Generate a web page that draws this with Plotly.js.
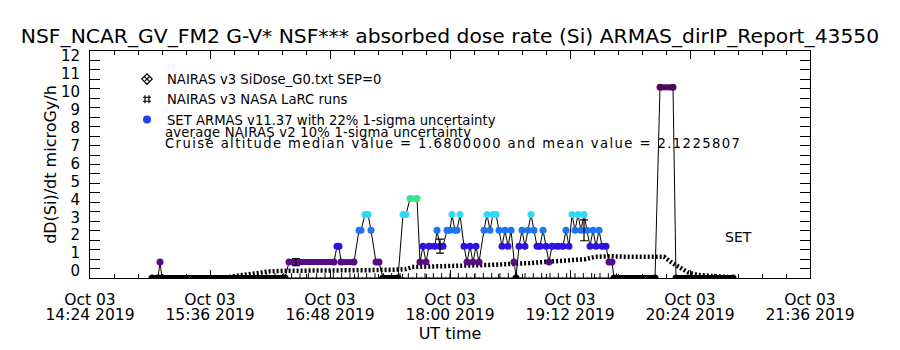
<!DOCTYPE html>
<html><head><meta charset="utf-8">
<script src="https://cdn.plot.ly/plotly-3.0.1.min.js"></script>
<style>html,body{margin:0;padding:0;background:#fff;}#chart{width:900px;height:350px;}</style>
</head><body><div id="chart"></div>
<script>
const DAY = '2019-10-03 ';
const tickTimes = ['14:24','15:36','16:48','18:00','19:12','20:24','21:36'];
const tickDateText = ['Oct 03','Oct 03','Oct 03','Oct 03','Oct 03','Oct 03','Oct 03'];
const tickTimeText = ['14:24 2019','15:36 2019','16:48 2019','18:00 2019','19:12 2019','20:24 2019','21:36 2019'];
const yTicks = [0,1,2,3,4,5,6,7,8,9,10,11,12];

// NAIRAS v3 SiDose_G0 model curve
const nairasTime = ['15:45:00','15:54:00','16:03:00','16:12:00','16:21:00','16:30:00','16:42:00','16:54:00','17:06:00','17:18:00','17:30:00','17:33:36','17:37:12','17:48:00','18:06:00','18:24:00','18:36:00','18:48:00','19:01:48','19:15:00','19:21:00','19:27:00','19:36:00','19:48:00','20:00:00','20:08:24','20:13:12','20:18:00','20:22:48','20:28:48','20:37:12','20:48:00'];
const nairasDose = [0.03,0.15,0.27,0.35,0.38,0.38,0.38,0.40,0.40,0.42,0.45,0.47,0.58,0.62,0.65,0.69,0.73,0.79,0.88,0.95,0.99,1.12,1.15,1.12,1.12,1.12,0.80,0.52,0.30,0.16,0.10,0.04];

// NAIRAS v3 NASA LaRC runs
const larcTime = ['16:10','16:15','16:20','16:25','16:30','16:35','16:40','16:45','16:50','16:55','17:00','17:05','17:10','17:15','17:20','17:25','17:30','17:35','17:40','17:45','17:50','17:55','18:00','18:05','18:10','18:15','18:20','18:25','18:30','18:35','18:40','18:45','18:50','18:55','19:00','19:05','19:10','19:15','19:20','19:25','19:30','19:35','19:40'];
const larcDose = [0,0,0,0,0,0,0,0,0,0,0,0,0,0,0,0,0,0,0,0,0,0,0,0,0,0,0,0,0,0,0,0,0,0,0,0,0,0,0,0,0,0,0];

// SET ARMAS v11.37 measurements
const armasTime = ['15:01:12','15:04:48','15:06:00','15:07:12','16:21:00','16:23:24','16:50:24','16:52:12','16:53:24','16:54:36',
'17:02:24','17:05:24','17:06:36','17:09:00','17:10:48','17:12:36','17:15:36','17:17:24','17:19:48','17:28:48',
'17:31:48','17:33:36','17:36:00','17:40:12','17:42:00','17:43:48','17:45:36','17:47:24','17:51:00','17:52:12',
'17:54:00','17:55:48','17:58:12','18:00:00','18:01:12','18:03:00','18:04:12','18:06:00','18:08:24','18:10:12',
'18:12:00','18:13:48','18:15:36','18:17:24','18:20:24','18:22:12','18:24:00','18:25:48','18:27:36','18:29:24',
'18:31:12','18:33:00','18:34:48','18:36:36','18:38:24','18:39:36','18:41:24','18:43:12','18:45:00','18:46:48',
'18:48:36','18:50:24','18:52:12','18:54:00','18:55:48','18:57:36','18:59:24','19:01:12','19:04:48','19:07:48',
'19:09:36','19:11:24','19:13:12','19:15:00','19:16:48','19:18:36','19:20:24','19:22:12','19:24:00','19:25:48',
'19:27:36','19:29:24','19:31:12','19:33:36','19:35:24','19:37:12','19:38:24','20:03:00','20:06:00','20:13:48',
'20:15:36','20:49:48'];
const armasDose = [0,0,0.84,0,0,0.84,0.84,1.68,1.68,0.84,
0.84,2.52,2.52,3.36,3.36,2.52,0.84,0.84,0,0,
3.36,3.36,4.2,4.2,0.84,1.68,0.84,1.68,1.68,2.52,
1.68,1.68,2.52,2.52,3.36,2.52,2.52,3.36,1.68,0.84,
1.68,0.84,1.68,0.84,2.52,3.36,2.52,3.36,3.36,2.52,
1.68,2.52,1.68,2.52,0.84,0,1.68,2.52,1.68,2.52,
3.36,2.52,1.68,1.68,2.52,1.68,0.84,1.68,1.68,1.68,
2.52,1.68,3.36,2.52,3.36,2.52,3.36,2.52,1.68,2.52,
1.68,2.52,1.68,1.68,0.84,0.84,0,0,10.08,10.08,
0,0];

// ARMAS 1-sigma error bars
const errTime = ['16:27:36','17:54:00','19:20:24'];
const errDose = [0.84,1.68,2.52];
const errSigma = [0.19,0.37,0.55];

const doseLevels = [0,0.84,1.68,2.52,3.36,4.2,10.08];
const levelColors = ['#000000','#550c85','#2d12e0','#1f74f2','#33d7f5','#33e68c','#4d0a5c'];
function doseColor(v){ const i = doseLevels.indexOf(v); return i>=0 ? levelColors[i] : '#000000'; }
const toDate = t => DAY + t;

const FONT = 'DejaVu Sans, sans-serif';
const armasX = armasTime.map(toDate);

const traces = [];
traces.push({x: nairasTime.map(toDate), y: nairasDose, type:'scatter', mode:'lines',
  line:{color:'#000', width:4.5, dash:'2px,2px'}, showlegend:false, hoverinfo:'skip'});
traces.push({x: larcTime.map(toDate), y: larcDose, type:'scatter', mode:'markers',
  marker:{symbol:'cross-thin-open', size:7, color:'#000', line:{color:'#000', width:1}}, showlegend:false});
traces.push({x: armasX, y: armasDose, type:'scatter', mode:'lines',
  line:{color:'#000', width:1}, showlegend:false});
// colored runs of equal consecutive readings
const segs = {};
for (let i=0;i<armasDose.length-1;i++){
  if (armasDose[i] === armasDose[i+1]){
    const c = doseColor(armasDose[i]);
    if (!segs[c]) segs[c] = {x:[], y:[]};
    segs[c].x.push(armasX[i], armasX[i+1], null);
    segs[c].y.push(armasDose[i], armasDose[i+1], null);
  }
}
Object.keys(segs).forEach(c => {
  traces.push({x: segs[c].x, y: segs[c].y, type:'scatter', mode:'lines',
    line:{color:c, width:6}, showlegend:false, connectgaps:false});
});
traces.push({x: armasX, y: armasDose, type:'scatter', mode:'markers',
  marker:{symbol:'circle', size:7, color: armasDose.map(doseColor), line:{width:0}}, showlegend:false});
traces.push({x: errTime.map(toDate), y: errDose, type:'scatter', mode:'markers',
  marker:{size:1, color:'rgba(0,0,0,0)'}, showlegend:false,
  error_y:{type:'data', array: errSigma, visible:true, color:'#000', thickness:1.2, width:4}});

// legend entries
const legendNames = ['NAIRAS v3 SiDose_G0.txt SEP=0','NAIRAS v3 NASA LaRC runs','SET ARMAS v11.37 with 22% 1-sigma uncertainty'];
traces.push({x:[null], y:[null], xaxis:'x2', yaxis:'y2', type:'scatter', mode:'markers', name: legendNames[0], legendgroup:'a',
  marker:{symbol:'diamond-x-open', size:8, color:'#000', line:{width:1.2, color:'#000'}}});
traces.push({x:[null], y:[null], xaxis:'x2', yaxis:'y2', type:'scatter', mode:'markers', name: legendNames[1], legendgroup:'b',
  marker:{symbol:'hash-open', size:8, color:'#000', line:{width:1.2, color:'#000'}}});
traces.push({x:[null], y:[null], xaxis:'x2', yaxis:'y2', type:'scatter', mode:'markers', name: legendNames[2], legendgroup:'c',
  marker:{symbol:'circle', size:8, color:'#2a3cf0'}});

const xRange = [toDate('14:24'), toDate('21:36')];
const layout = {
  width:900, height:350,
  margin:{l:90, r:90, t:51, b:72, pad:0},
  paper_bgcolor:'#fff', plot_bgcolor:'#fff',
  font:{family:FONT, color:'#000', size:13},
  title:{text:'NSF_NCAR_GV_FM2 G-V* NSF*** absorbed dose rate (Si) ARMAS_dirIP_Report_43550',
    font:{family:FONT, size:20.3, color:'#000'}, x:0.5, xanchor:'center', y:1-36/350, yref:'container', yanchor:'middle'},
  xaxis:{type:'date', range:xRange, tickvals: tickTimes.map(toDate), ticktext: tickDateText,
    tickfont:{size:15.5}, ticks:'inside', ticklen:8, tickcolor:'#000', tickwidth:1,
    showline:true, linecolor:'#000', linewidth:1, mirror:'allticks', showgrid:false, zeroline:false,
    minor:{tick0: toDate('14:24'), dtick:864000, ticks:'inside', ticklen:4, tickcolor:'#000', showgrid:false},
    ticklabelstandoff:7,
    title:{text:'UT time', font:{size:16}, standoff:20}},
  xaxis2:{type:'date', range:xRange, overlaying:'x', anchor:'y', side:'bottom',
    tickvals: tickTimes.map(toDate), ticktext: tickTimeText, tickfont:{size:15.5},
    ticks:'', showline:false, showgrid:false, zeroline:false, ticklabelstandoff:25},
  yaxis:{range:[0,12], tickvals:yTicks, showticklabels:false, ticks:'inside', ticklen:10, tickcolor:'#000',
    showline:true, linecolor:'#000', linewidth:1, mirror:'allticks', showgrid:false, zeroline:false,
    minor:{dtick:0.5, ticks:'inside', ticklen:10, tickcolor:'#000', showgrid:false}},
  yaxis2:{range:[-0.39, 12.28], overlaying:'y', side:'left', anchor:'x', tickvals:yTicks,
    tickfont:{size:15}, ticks:'', showline:false, showgrid:false, zeroline:false, ticklabelstandoff:9,
    title:{text:'dD(Si)/dt microGy/h', font:{size:16}, standoff:0}},
  showlegend:true,
  legend:{x:(127-90)/720, y:(278-64)/227, xanchor:'left', yanchor:'top', bgcolor:'rgba(0,0,0,0)',
    font:{size:13.2}, tracegroupgap:2, traceorder:'normal'},
  annotations:[
    {xref:'paper', yref:'paper', x:(163-90)/720, y:(278-132)/227, xanchor:'left', yanchor:'middle',
      text:'<span style="letter-spacing:0.2px">average NAIRAS v2 10% 1-sigma uncertainty</span>', showarrow:false, font:{size:13.2}},
    {xref:'paper', yref:'paper', x:(163-90)/720, y:(278-143)/227, xanchor:'left', yanchor:'middle',
      text:'<span style="letter-spacing:1.4px">Cruise altitude median value = 1.6800000 and mean value = 2.1225807</span>', showarrow:false, font:{size:13.2}},
    {xref:'paper', yref:'paper', x:(738-90)/720, y:(278-237)/227, xanchor:'center', yanchor:'middle',
      text:'SET', showarrow:false, font:{size:14}}
  ]
};
Plotly.newPlot('chart', traces, layout, {staticPlot:true, displayModeBar:false});
</script></body></html>
